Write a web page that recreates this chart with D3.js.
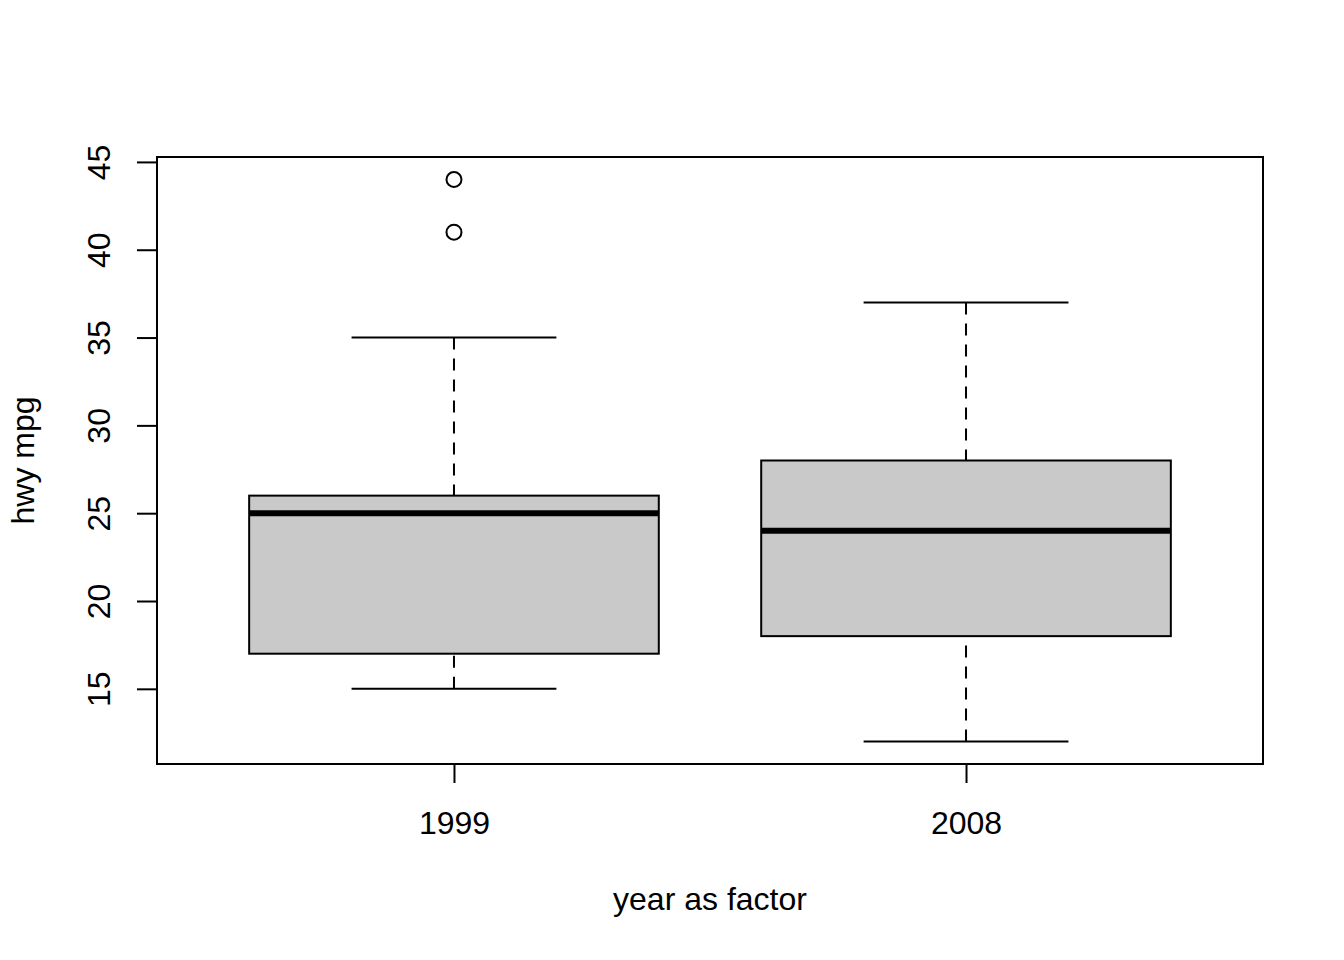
<!DOCTYPE html>
<html>
<head>
<meta charset="utf-8">
<script src="https://cdn.jsdelivr.net/npm/d3@7"></script>
<style>
  body { margin: 0; background: #fff; }
  svg { display: block; }
  text { font-family: "Liberation Sans", Arial, sans-serif; fill: #000; }
</style>
</head>
<body>
<svg width="1344" height="960"></svg>
<script>
// box statistics per year (hwy mpg)
let years = ["1999", "2008"];
let lowerWhisker = [15, 12];
let q1 = [17, 18];
let median = [25, 24];
let q3 = [26, 28];
let upperWhisker = [35, 37];
let outliers = [[44, 41], []];
let yTicks = [15, 20, 25, 30, 35, 40, 45];

let svg = d3.select("svg");
let plotLeft = 157, plotRight = 1263, plotTop = 157, plotBottom = 764;
let fontSize = 32;

// R style: 4% padding around the data ranges
let x = d3.scaleLinear().domain([0.42, 2.58]).range([plotLeft, plotRight]);
let y = d3.scaleLinear().domain([10.72, 45.28]).range([plotBottom, plotTop]);

let data = years.map((yr, i) => ({
    year: yr, pos: i + 1,
    lo: lowerWhisker[i], q1: q1[i], med: median[i], q3: q3[i], hi: upperWhisker[i],
    out: outliers[i]
}));

let boxHalf = 0.4, capHalf = 0.2;

let g = svg.append("g");

// whiskers (dashed)
let groups = g.selectAll(".box").data(data).enter().append("g").attr("class", "box");

groups.append("line")
    .attr("x1", d => x(d.pos)).attr("x2", d => x(d.pos))
    .attr("y1", d => y(d.hi)).attr("y2", d => y(d.q3))
    .attr("stroke", "#000").attr("stroke-width", 2).attr("stroke-dasharray", "12,9");
groups.append("line")
    .attr("x1", d => x(d.pos)).attr("x2", d => x(d.pos))
    .attr("y1", d => y(d.lo)).attr("y2", d => y(d.q1))
    .attr("stroke", "#000").attr("stroke-width", 2).attr("stroke-dasharray", "12,9");

// whisker caps
["hi", "lo"].forEach(k => {
    groups.append("line")
        .attr("x1", d => x(d.pos - capHalf)).attr("x2", d => x(d.pos + capHalf))
        .attr("y1", d => y(d[k])).attr("y2", d => y(d[k]))
        .attr("stroke", "#000").attr("stroke-width", 2);
});

// boxes
groups.append("rect")
    .attr("x", d => x(d.pos - boxHalf))
    .attr("width", d => x(d.pos + boxHalf) - x(d.pos - boxHalf))
    .attr("y", d => y(d.q3))
    .attr("height", d => y(d.q1) - y(d.q3))
    .attr("fill", "#c9c9c9").attr("stroke", "#000").attr("stroke-width", 2);

// medians
groups.append("line")
    .attr("x1", d => x(d.pos - boxHalf)).attr("x2", d => x(d.pos + boxHalf))
    .attr("y1", d => y(d.med)).attr("y2", d => y(d.med))
    .attr("stroke", "#000").attr("stroke-width", 6);

// outliers
groups.selectAll("circle").data(d => d.out.map(v => ({ pos: d.pos, v: v }))).enter()
    .append("circle")
    .attr("cx", d => x(d.pos)).attr("cy", d => y(d.v)).attr("r", 7.5)
    .attr("fill", "none").attr("stroke", "#000").attr("stroke-width", 2);

// y axis
let yAxis = svg.append("g").attr("transform", `translate(${plotLeft},0)`)
    .call(d3.axisLeft(y).tickValues(yTicks).tickSize(20).tickFormat(d3.format("d")));
yAxis.select(".domain").attr("d", `M0,${y(15)}V${y(45)}`).attr("stroke-width", 2);
yAxis.selectAll(".tick line").attr("stroke-width", 2);
yAxis.selectAll(".tick text")
    .attr("x", 0).attr("y", -47).attr("dy", null)
    .attr("transform", "rotate(-90)")
    .attr("text-anchor", "middle")
    .style("font-size", fontSize + "px")
    .style("font-family", "'Liberation Sans', Arial, sans-serif");

// x axis
let xAxis = svg.append("g").attr("transform", `translate(0,${plotBottom})`)
    .call(d3.axisBottom(x).tickValues([1, 2]).tickSize(19).tickFormat((d, i) => years[i]));
xAxis.select(".domain").attr("d", `M${x(1)},0H${x(2)}`).attr("stroke-width", 2);
xAxis.selectAll(".tick line").attr("stroke-width", 2);
xAxis.selectAll(".tick text")
    .attr("y", 70).attr("dy", null)
    .style("font-size", fontSize + "px")
    .style("font-family", "'Liberation Sans', Arial, sans-serif");

// frame
svg.append("rect")
    .attr("x", plotLeft).attr("y", plotTop)
    .attr("width", plotRight - plotLeft).attr("height", plotBottom - plotTop)
    .attr("fill", "none").attr("stroke", "#000").attr("stroke-width", 2);

// axis titles
svg.append("text")
    .attr("x", (plotLeft + plotRight) / 2).attr("y", 910)
    .attr("text-anchor", "middle")
    .style("font-size", fontSize + "px")
    .text("year as factor");

svg.append("text")
    .attr("transform", `translate(34,${(plotTop + plotBottom) / 2}) rotate(-90)`)
    .attr("text-anchor", "middle")
    .style("font-size", fontSize + "px")
    .text("hwy mpg");
</script>
</body>
</html>
